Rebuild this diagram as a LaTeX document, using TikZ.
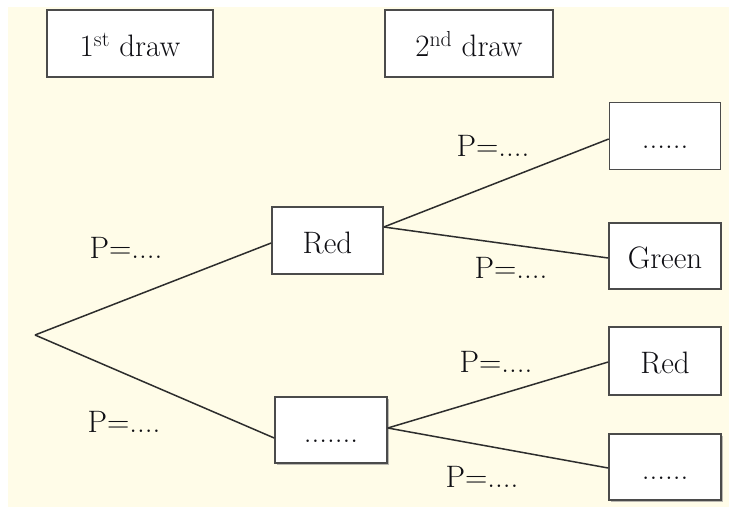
\documentclass[tikz,border=0pt]{standalone}
\usetikzlibrary{calc,shadows}
\definecolor{cream}{RGB}{255,252,232}
\definecolor{edge}{RGB}{45,45,45}
\definecolor{frame}{RGB}{75,75,75}
\definecolor{ink}{RGB}{15,15,20}
\begin{document}
\begin{tikzpicture}[x=1pt,y=-1pt,
  font=\fontsize{31}{36}\selectfont,
  box/.style={draw=frame,line width=1.6pt,fill=white,text=ink,
    inner sep=0pt,text height=25pt,text depth=0pt,align=center},
  shbox/.style={box,drop shadow={shadow xshift=1.8pt,shadow yshift=-1.8pt,
    fill=black!45,opacity=0.6}},
  branch/.style={draw=edge,line width=1.5pt},
  prob/.style={text=ink,inner sep=0pt}]
% page and background
\useasboundingbox (0,0) rectangle (729,507);
\fill[cream] (8,7) rectangle (729,507);

% column headings
\node[box,minimum width=166pt,minimum height=67pt] (d1) at (130,43.5) {1\textsuperscript{st} draw};
\node[box,minimum width=168pt,minimum height=67pt] (d2) at (469,43.5) {2\textsuperscript{nd} draw};

% first draw
\coordinate (root) at (35,335);
\node[box,minimum width=111pt,minimum height=67pt] (red1) at (327.5,240.5) {Red};
\node[shbox,minimum width=112pt,minimum height=66pt] (dots1) at (331,430) {.......};

% second draw
\node[box,minimum width=111pt,minimum height=67pt] (t1) at (665,136) {......};
\node[box,minimum width=112pt,minimum height=66pt] (green) at (665,256) {Green};
\node[box,minimum width=112pt,minimum height=68pt] (red2) at (665,361) {Red};
\node[shbox,minimum width=112pt,minimum height=66pt] (b1) at (665,467) {......};

% branches
\draw[branch] (root) -- ($(red1.west)+(0,2.5)$);
\draw[branch] (root) -- ($(dots1.west)+(0,8)$);
\draw[branch] ($(red1.east)+(0,-13.5)$) -- ($(t1.west)+(0,3)$);
\draw[branch] ($(red1.east)+(0,-13.5)$) -- ($(green.west)+(0,2)$);
\draw[branch] ($(dots1.east)+(0,-2)$) -- ($(red2.west)+(0,1)$);
\draw[branch] ($(dots1.east)+(0,-2)$) -- ($(b1.west)+(0,1)$);

% probability labels
\node[prob] (p1) at (126,248) {P=....};
\node[prob] (p2) at (124,422) {P=....};
\node[prob] (p3) at (493,146) {P=....};
\node[prob] (p4) at (511,268) {P=....};
\node[prob] (p5) at (496,362) {P=....};
\node[prob] (p6) at (482,477) {P=....};
\end{tikzpicture}
\end{document}
